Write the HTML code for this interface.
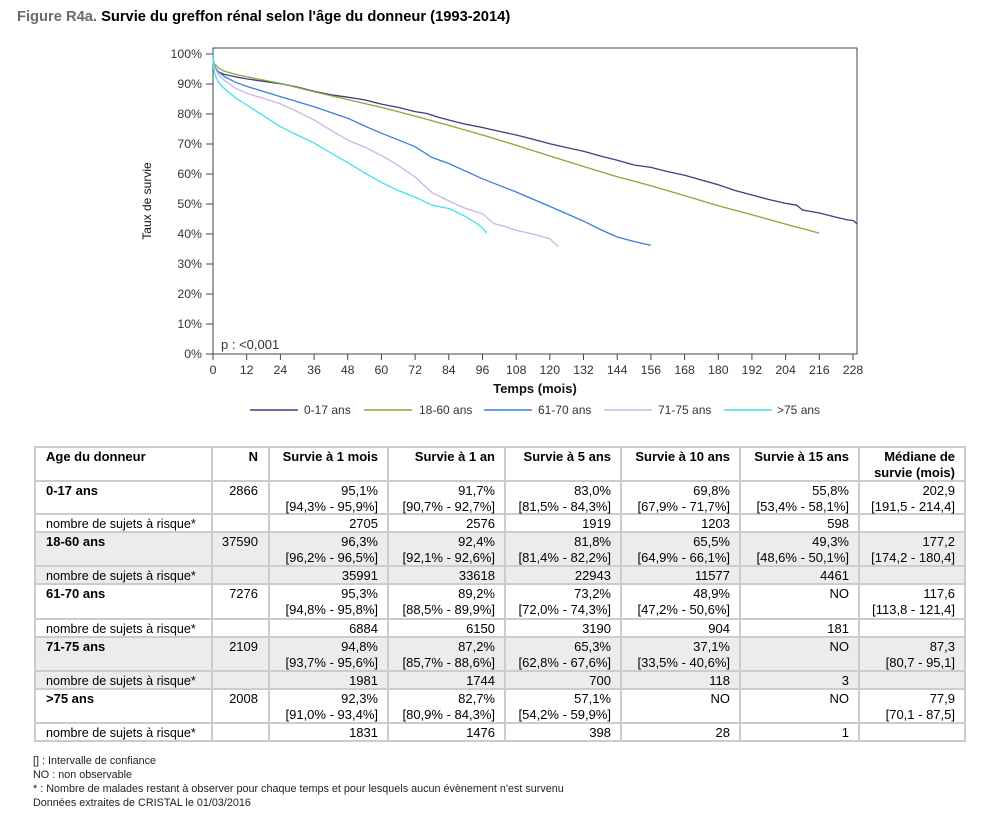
<!DOCTYPE html>
<html><head><meta charset="utf-8"><style>
html,body{margin:0;padding:0;background:#fff;}
svg{display:block;font-family:"Liberation Sans",Arial,sans-serif;}
</style></head><body>
<svg width="1000" height="826" viewBox="0 0 1000 826" xmlns="http://www.w3.org/2000/svg">
<rect width="1000" height="826" fill="#fff"/>
<!-- Title -->
<text x="17" y="21" font-size="14.7" font-weight="bold"><tspan fill="#6a6a6a">Figure R4a. </tspan><tspan fill="#000">Survie du greffon rénal selon l'âge du donneur (1993-2014)</tspan></text>

<!-- Chart frame -->
<rect x="213" y="48" width="644" height="306" fill="none" stroke="#444" stroke-width="1"/>
<!-- Y ticks -->
<g stroke="#444" stroke-width="1">
<line x1="206" y1="54" x2="213" y2="54"/><line x1="206" y1="84" x2="213" y2="84"/><line x1="206" y1="114" x2="213" y2="114"/><line x1="206" y1="144" x2="213" y2="144"/><line x1="206" y1="174" x2="213" y2="174"/><line x1="206" y1="204" x2="213" y2="204"/><line x1="206" y1="234" x2="213" y2="234"/><line x1="206" y1="264" x2="213" y2="264"/><line x1="206" y1="294" x2="213" y2="294"/><line x1="206" y1="324" x2="213" y2="324"/><line x1="206" y1="354" x2="213" y2="354"/>
</g>
<g font-size="12.3" fill="#333" text-anchor="end">
<text x="202" y="58">100%</text><text x="202" y="88">90%</text><text x="202" y="118">80%</text><text x="202" y="148">70%</text><text x="202" y="178">60%</text><text x="202" y="208">50%</text><text x="202" y="238">40%</text><text x="202" y="268">30%</text><text x="202" y="298">20%</text><text x="202" y="328">10%</text><text x="202" y="358">0%</text>
</g>
<!-- X ticks -->
<g stroke="#444" stroke-width="1">
<line x1="213" y1="354" x2="213" y2="360"/><line x1="246.7" y1="354" x2="246.7" y2="360"/><line x1="280.4" y1="354" x2="280.4" y2="360"/><line x1="314.1" y1="354" x2="314.1" y2="360"/><line x1="347.7" y1="354" x2="347.7" y2="360"/><line x1="381.4" y1="354" x2="381.4" y2="360"/><line x1="415.1" y1="354" x2="415.1" y2="360"/><line x1="448.8" y1="354" x2="448.8" y2="360"/><line x1="482.5" y1="354" x2="482.5" y2="360"/><line x1="516.2" y1="354" x2="516.2" y2="360"/><line x1="549.8" y1="354" x2="549.8" y2="360"/><line x1="583.5" y1="354" x2="583.5" y2="360"/><line x1="617.2" y1="354" x2="617.2" y2="360"/><line x1="650.9" y1="354" x2="650.9" y2="360"/><line x1="684.6" y1="354" x2="684.6" y2="360"/><line x1="718.3" y1="354" x2="718.3" y2="360"/><line x1="751.9" y1="354" x2="751.9" y2="360"/><line x1="785.6" y1="354" x2="785.6" y2="360"/><line x1="819.3" y1="354" x2="819.3" y2="360"/><line x1="853" y1="354" x2="853" y2="360"/>
</g>
<g font-size="12.3" fill="#333" text-anchor="middle">
<text x="213" y="374">0</text><text x="246.7" y="374">12</text><text x="280.4" y="374">24</text><text x="314.1" y="374">36</text><text x="347.7" y="374">48</text><text x="381.4" y="374">60</text><text x="415.1" y="374">72</text><text x="448.8" y="374">84</text><text x="482.5" y="374">96</text><text x="516.2" y="374">108</text><text x="549.8" y="374">120</text><text x="583.5" y="374">132</text><text x="617.2" y="374">144</text><text x="650.9" y="374">156</text><text x="684.6" y="374">168</text><text x="718.3" y="374">180</text><text x="751.9" y="374">192</text><text x="785.6" y="374">204</text><text x="819.3" y="374">216</text><text x="853" y="374">228</text>
</g>
<text x="535" y="393" font-size="13" font-weight="bold" text-anchor="middle" fill="#111">Temps (mois)</text>
<text transform="translate(151,201) rotate(-90)" font-size="12" text-anchor="middle" fill="#111">Taux de survie</text>
<text x="221" y="349" font-size="13" fill="#333">p : &lt;0,001</text>

<!-- Curves in data coordinates -->
<g transform="translate(213,354) scale(2.807,-3)" fill="none" stroke-width="1.3" stroke-linejoin="round">
<polyline vector-effect="non-scaling-stroke" stroke="#3d3d82" points="0,100 0.2,97 0.5,95.5 1,95.1 2,94 4,93.2 8,92.4 12,91.7 18,90.9 24,90.1 30,89 36,87.6 42,86.4 48,85.6 54,84.7 60,83.3 66,82.2 72,80.8 76,80.2 80,79 84,78 90,76.6 96,75.5 102,74.2 108,73 114,71.6 120,70.1 126,68.8 132,67.6 138,66 144,64.6 150,63 156,62.2 162,60.8 168,59.6 174,58 180,56.4 186,54.5 192,53 198,51.5 204,50.2 208,49.6 210,48 216,47 222,45.6 226,44.7 228,44.5 229.3,43.5"/>
<polyline vector-effect="non-scaling-stroke" stroke="#8aa63a" points="0,100 0.2,97.5 0.5,96.6 1,96.3 2,95.3 4,94.3 8,93.2 12,92.4 24,90.2 36,87.4 48,84.8 60,82.2 72,79.3 84,76.2 96,73 108,69.6 120,66 132,62.5 144,59.1 156,56.1 168,52.8 180,49.4 192,46.4 204,43.3 216,40.3"/>
<polyline vector-effect="non-scaling-stroke" stroke="#3b7fdc" points="0,100 0.2,97 0.5,96 1,95.3 2,94 4,92.5 8,90.6 12,89.2 18,87.5 24,85.8 36,82.4 48,78.6 54,76 60,73.6 72,69.1 78,65.5 84,63.5 96,58.4 108,54 120,49.2 132,44.3 138,41.5 144,39 150,37.5 156,36.2"/>
<polyline vector-effect="non-scaling-stroke" stroke="#cab5e8" points="0,100 0.2,96.5 0.5,95.5 1,94.8 2,93 4,91.2 8,88.6 12,86.9 18,85.2 24,83.4 30,80.8 36,78 42,74.6 48,71.3 54,69 60,66.2 66,62.8 72,59 78,53.8 84,51 90,48.5 96,46.8 100,43.5 104,42.5 108,41.2 114,40 120,38.4 123,35.8"/>
<polyline vector-effect="non-scaling-stroke" stroke="#3fe3ea" points="0,100 0.2,95.5 0.5,93.8 1,92.5 2,90.5 4,88.5 8,85.4 12,83 18,79.4 24,75.8 30,73 36,70.3 42,67 48,63.8 54,60.4 60,57.2 66,54.5 72,52.3 78,49.6 84,48.5 90,45.8 94,43.5 96,42 97.5,40.3"/>
</g>

<!-- Legend -->
<g stroke-width="1.5">
<line x1="250" y1="410" x2="298" y2="410" stroke="#3d3d82"/>
<line x1="364" y1="410" x2="412" y2="410" stroke="#8aa63a"/>
<line x1="484" y1="410" x2="532" y2="410" stroke="#3b7fdc"/>
<line x1="604" y1="410" x2="652" y2="410" stroke="#cab5e8"/>
<line x1="724" y1="410" x2="772" y2="410" stroke="#3fe3ea"/>
</g>
<g font-size="12" fill="#333">
<text x="304" y="414">0-17 ans</text>
<text x="419" y="414">18-60 ans</text>
<text x="538" y="414">61-70 ans</text>
<text x="658" y="414">71-75 ans</text>
<text x="777" y="414">&gt;75 ans</text>
</g>

<!-- Table backgrounds -->
<rect x="35" y="532" width="930" height="52" fill="#ececec"/>
<rect x="35" y="637" width="930" height="52" fill="#ececec"/>
<!-- Table grid -->
<g stroke="#cccccc" stroke-width="2">
<line x1="34" y1="447" x2="966" y2="447"/><line x1="34" y1="481" x2="966" y2="481"/><line x1="34" y1="514" x2="966" y2="514"/><line x1="34" y1="532" x2="966" y2="532"/><line x1="34" y1="566" x2="966" y2="566"/><line x1="34" y1="584" x2="966" y2="584"/><line x1="34" y1="619" x2="966" y2="619"/><line x1="34" y1="637" x2="966" y2="637"/><line x1="34" y1="671" x2="966" y2="671"/><line x1="34" y1="689" x2="966" y2="689"/><line x1="34" y1="723" x2="966" y2="723"/><line x1="34" y1="741" x2="966" y2="741"/>
<line x1="35" y1="446" x2="35" y2="742"/><line x1="212" y1="446" x2="212" y2="742"/><line x1="269" y1="446" x2="269" y2="742"/><line x1="388" y1="446" x2="388" y2="742"/><line x1="505" y1="446" x2="505" y2="742"/><line x1="621" y1="446" x2="621" y2="742"/><line x1="740" y1="446" x2="740" y2="742"/><line x1="859" y1="446" x2="859" y2="742"/><line x1="965" y1="446" x2="965" y2="742"/>
</g>

<!-- Table text -->
<g font-size="13" fill="#000">
<!-- header -->
<g font-weight="bold">
<text x="46" y="461">Age du donneur</text>
<g text-anchor="end">
<text x="258" y="461">N</text>
<text x="378" y="461">Survie à 1 mois</text>
<text x="495" y="461">Survie à 1 an</text>
<text x="611" y="461">Survie à 5 ans</text>
<text x="730" y="461">Survie à 10 ans</text>
<text x="849" y="461">Survie à 15 ans</text>
<text x="955" y="461">Médiane de</text>
<text x="955" y="477">survie (mois)</text>
</g>
<text x="46" y="495">0-17 ans</text>
<text x="46" y="546">18-60 ans</text>
<text x="46" y="598">61-70 ans</text>
<text x="46" y="651">71-75 ans</text>
<text x="46" y="703">&gt;75 ans</text>
</g>
<g font-size="12.6">
<text x="46" y="528">nombre de sujets à risque*</text>
<text x="46" y="580">nombre de sujets à risque*</text>
<text x="46" y="633">nombre de sujets à risque*</text>
<text x="46" y="685">nombre de sujets à risque*</text>
<text x="46" y="737">nombre de sujets à risque*</text>
</g>

<g text-anchor="end">
<!-- 0-17 -->
<text x="258" y="495">2866</text>
<text x="378" y="495">95,1%</text><text x="378" y="511">[94,3% - 95,9%]</text>
<text x="495" y="495">91,7%</text><text x="495" y="511">[90,7% - 92,7%]</text>
<text x="611" y="495">83,0%</text><text x="611" y="511">[81,5% - 84,3%]</text>
<text x="730" y="495">69,8%</text><text x="730" y="511">[67,9% - 71,7%]</text>
<text x="849" y="495">55,8%</text><text x="849" y="511">[53,4% - 58,1%]</text>
<text x="955" y="495">202,9</text><text x="955" y="511">[191,5 - 214,4]</text>
<text x="378" y="528">2705</text><text x="495" y="528">2576</text><text x="611" y="528">1919</text><text x="730" y="528">1203</text><text x="849" y="528">598</text>
<!-- 18-60 -->
<text x="258" y="546">37590</text>
<text x="378" y="546">96,3%</text><text x="378" y="562">[96,2% - 96,5%]</text>
<text x="495" y="546">92,4%</text><text x="495" y="562">[92,1% - 92,6%]</text>
<text x="611" y="546">81,8%</text><text x="611" y="562">[81,4% - 82,2%]</text>
<text x="730" y="546">65,5%</text><text x="730" y="562">[64,9% - 66,1%]</text>
<text x="849" y="546">49,3%</text><text x="849" y="562">[48,6% - 50,1%]</text>
<text x="955" y="546">177,2</text><text x="955" y="562">[174,2 - 180,4]</text>
<text x="378" y="580">35991</text><text x="495" y="580">33618</text><text x="611" y="580">22943</text><text x="730" y="580">11577</text><text x="849" y="580">4461</text>
<!-- 61-70 -->
<text x="258" y="598">7276</text>
<text x="378" y="598">95,3%</text><text x="378" y="614">[94,8% - 95,8%]</text>
<text x="495" y="598">89,2%</text><text x="495" y="614">[88,5% - 89,9%]</text>
<text x="611" y="598">73,2%</text><text x="611" y="614">[72,0% - 74,3%]</text>
<text x="730" y="598">48,9%</text><text x="730" y="614">[47,2% - 50,6%]</text>
<text x="849" y="598">NO</text>
<text x="955" y="598">117,6</text><text x="955" y="614">[113,8 - 121,4]</text>
<text x="378" y="633">6884</text><text x="495" y="633">6150</text><text x="611" y="633">3190</text><text x="730" y="633">904</text><text x="849" y="633">181</text>
<!-- 71-75 -->
<text x="258" y="651">2109</text>
<text x="378" y="651">94,8%</text><text x="378" y="667">[93,7% - 95,6%]</text>
<text x="495" y="651">87,2%</text><text x="495" y="667">[85,7% - 88,6%]</text>
<text x="611" y="651">65,3%</text><text x="611" y="667">[62,8% - 67,6%]</text>
<text x="730" y="651">37,1%</text><text x="730" y="667">[33,5% - 40,6%]</text>
<text x="849" y="651">NO</text>
<text x="955" y="651">87,3</text><text x="955" y="667">[80,7 - 95,1]</text>
<text x="378" y="685">1981</text><text x="495" y="685">1744</text><text x="611" y="685">700</text><text x="730" y="685">118</text><text x="849" y="685">3</text>
<!-- >75 -->
<text x="258" y="703">2008</text>
<text x="378" y="703">92,3%</text><text x="378" y="719">[91,0% - 93,4%]</text>
<text x="495" y="703">82,7%</text><text x="495" y="719">[80,9% - 84,3%]</text>
<text x="611" y="703">57,1%</text><text x="611" y="719">[54,2% - 59,9%]</text>
<text x="730" y="703">NO</text>
<text x="849" y="703">NO</text>
<text x="955" y="703">77,9</text><text x="955" y="719">[70,1 - 87,5]</text>
<text x="378" y="737">1831</text><text x="495" y="737">1476</text><text x="611" y="737">398</text><text x="730" y="737">28</text><text x="849" y="737">1</text>
</g>
</g>

<!-- Footnotes -->
<g font-size="10.8" fill="#222">
<text x="33" y="764">[] : Intervalle de confiance</text>
<text x="33" y="778">NO : non observable</text>
<text x="33" y="792">* : Nombre de malades restant à observer pour chaque temps et pour lesquels aucun évènement n'est survenu</text>
<text x="33" y="806">Données extraites de CRISTAL le 01/03/2016</text>
</g>
</svg>
</body></html>
